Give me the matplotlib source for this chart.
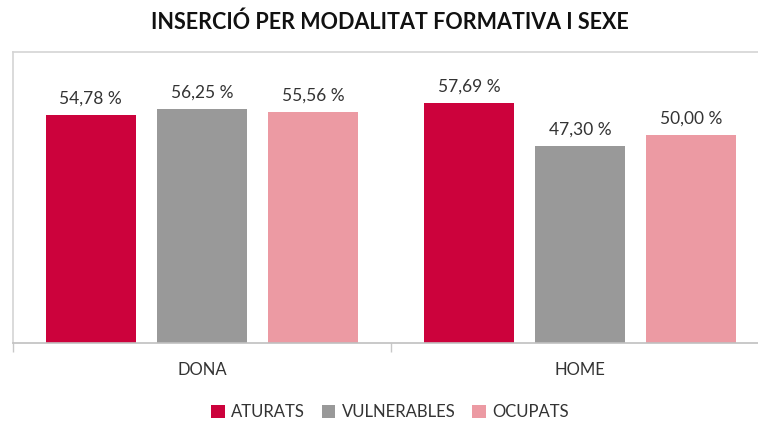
import matplotlib.pyplot as plt
from matplotlib.patches import Patch
import numpy as np

plt.rcParams['font.family'] = ['Lato', 'DejaVu Sans']

# Inserció per sexe i modalitat formativa (%)
categories = ['DONA', 'HOME']
series = ['ATURATS', 'VULNERABLES', 'OCUPATS']
aturats = [54.78, 57.69]
vulnerables = [56.25, 47.30]
ocupats = [55.56, 50.00]
colors = ['#cc023c', '#999999', '#ec9aa3']

fig = plt.figure(figsize=(7.58, 4.23), dpi=100)
ax = fig.add_axes([13 / 758, 80 / 423, 1 - 13 / 758, 291 / 423])

x = np.arange(len(categories))
width = 0.238
offset = 0.294
for i, (vals, col) in enumerate(zip([aturats, vulnerables, ocupats], colors)):
    pos = x + (i - 1) * offset
    ax.bar(pos, vals, width=width, color=col, zorder=2)
    for px, v in zip(pos, vals):
        ax.annotate(f'{v:.2f} %'.replace('.', ','), (px, v), xytext=(0, 6),
                    textcoords='offset points', ha='center', va='bottom',
                    fontsize=12.5, color='#333333')

ax.set_yticks([])
ax.set_xticks(x)
ax.set_xticklabels(categories, fontsize=12, color='#333333')
ax.tick_params(axis='x', which='major', length=0, pad=14)
# tick marks on the category boundaries
ax.set_xticks([-0.5, 0.5], minor=True)
ax.tick_params(axis='x', which='minor', length=6.5, width=1, color='#c8c8c8')
# the category axis runs a little past the right edge of the figure
ax.set_xlim(-0.5, 1.5 - 11 / 378)
ax.set_ylim(0, 70)

ax.spines['right'].set_visible(False)
for s in ['top', 'left']:
    ax.spines[s].set_color('#d4d4d4')
    ax.spines[s].set_linewidth(1.2)
ax.spines['bottom'].set_color('#c0c0c0')
ax.spines['bottom'].set_linewidth(1.2)

fig.text(390 / 758, 1 - 22 / 423, 'INSERCIÓ PER MODALITAT FORMATIVA I SEXE',
         ha='center', va='center', fontsize=15.5, fontweight='bold', color='#111111')

handles = [Patch(facecolor=c, label=s) for s, c in zip(series, colors)]
fig.legend(handles=handles, loc='center', bbox_to_anchor=(390 / 758, 1 - 412 / 423),
           ncol=3, frameon=False, fontsize=12, handlelength=0.8, handleheight=0.8,
           handletextpad=0.4, columnspacing=1.0, labelcolor='#333333')

fig.savefig('out.png', dpi=100)
